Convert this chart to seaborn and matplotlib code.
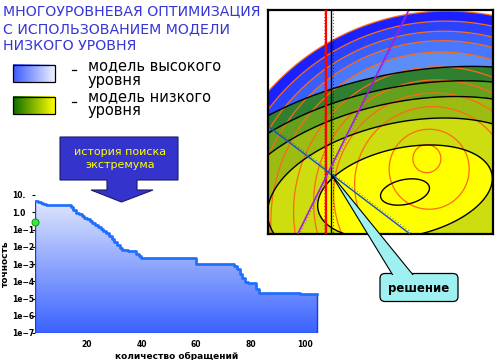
import numpy as np
import pandas as pd
import matplotlib
matplotlib.use("Agg")
import matplotlib.pyplot as plt
import seaborn as sns
from matplotlib.colors import LinearSegmentedColormap, to_rgb
from matplotlib.patches import Polygon, FancyBboxPatch, Rectangle
from matplotlib.ticker import NullLocator

# ---------------- texts ----------------
title_lines = ["МНОГОУРОВНЕВАЯ ОПТИМИЗАЦИЯ", "С ИСПОЛЬЗОВАНИЕМ МОДЕЛИ", "НИЗКОГО УРОВНЯ"]
legend_high = ["модель высокого", "уровня"]
legend_low = ["модель низкого", "уровня"]
history_label = ["история поиска", "экстремума"]
solution_label = "решение"
x_label = "количество обращений"
y_label = "точность"

# ---------------- search history ----------------
evaluations = [1, 2, 3, 4, 5, 13, 14, 15, 16, 17, 18, 19, 20, 21, 22, 23, 24, 25,
               26, 27, 28, 29, 30, 31, 32, 33, 35, 38, 39, 40, 60, 74, 75, 76, 77,
               78, 79, 82, 83, 98, 104.5]
accuracy = [4.7, 4.0, 3.3, 2.9, 2.8, 2.5, 1.9, 1.4, 0.95, 0.76, 0.6, 0.48, 0.38,
            0.3, 0.23, 0.18, 0.14, 0.11, 0.083, 0.06, 0.044, 0.03, 0.02, 0.0126,
            0.0087, 0.0063, 0.0059, 0.004, 0.0028, 0.0022, 1.0e-3, 7.9e-4, 5.0e-4,
            2.8e-4, 1.5e-4, 8.9e-5, 7.9e-5, 3.5e-5, 2.1e-5, 1.9e-5, 1.9e-5]
start_x = [1]
start_acc = [0.27]

y_tick_values = [1e1, 1e0, 1e-1, 1e-2, 1e-3, 1e-4, 1e-5, 1e-6, 1e-7]
y_tick_labels = ["10.", "1.0", "1e−1", "1e−2", "1e−3", "1e−4", "1e−5", "1e−6", "1e−7"]
x_tick_values = [20, 40, 60, 80, 100]
x_tick_labels = ["20", "40", "60", "80", "100"]

# ---------------- contour panel model parameters ----------------
low_center = [405.0, 192.0]
low_quad = [1 / 7000, 4.93e-4, 1.52e-4]
low_levels = [0.28, 1.0, 1.574, 2.031, 2.366, 2.672]
low_colors = ["#ffff00", "#cddd10", "#9cbc14", "#62a01e", "#2e7f30"]
high_center = [425.6, 153.0]
high_shift = [0.0896, 0.406]
high_levels = [14, 40, 78, 101, 123, 145, 170, 189, 205, 222, 239]
high_band_levels = [170, 189, 205, 222, 239]
high_colors = ["#5b8ef6", "#4878ff", "#3860ff", "#2842ff", "#1a20ff"]
red_line_x = 326.0
black_line_x = 331.0
purple_line = [(297.7, 234.0), (408.3, 11.0)]
blue_line = [(269.0, 127.0), (410.0, 234.0)]

plt.rcParams["font.family"] = ["DejaVu Sans"]
W, H = 500, 360
fig = plt.figure(figsize=(5, 3.6), dpi=100)
fig.patch.set_facecolor("white")

# ================= main chart =================
ax = fig.add_axes([35.2 / W, 1 - 333 / H, (318.6 - 35.2) / W, (333 - 195) / H])
ax.set_yscale("log")
ax.set_xlim(1, 105)
ax.set_ylim(1e-7, 10)
ax.set_autoscale_on(False)
df = pd.DataFrame({"evals": evaluations, "acc": accuracy})

poly = ax.fill_between(df["evals"], df["acc"], 1e-7, step="post",
                       facecolor="none", edgecolor="#1438ff", linewidth=1.0, zorder=2)
grad = np.linspace(0, 1, 256).reshape(-1, 1)
gcmap = LinearSegmentedColormap.from_list("g", ["#3a62ff", "#e6ecfc"])
im = ax.imshow(grad, cmap=gcmap, origin="lower", extent=(0, 1, 0, 1),
               transform=ax.transAxes, aspect="auto", zorder=1)
im.set_clip_path(poly.get_paths()[0], transform=ax.transData)

sns.lineplot(data=df, x="evals", y="acc", drawstyle="steps-post", color="#1f6fff",
             linewidth=1.9, estimator=None, sort=False, ax=ax, zorder=3)
sns.scatterplot(x=start_x, y=start_acc, ax=ax, color="#33ee33", edgecolor="#118011",
                linewidth=0.6, s=26, zorder=5, clip_on=False, legend=False)

ax.set_xlim(1, 105)
ax.set_ylim(1e-7, 10)
ax.set_yticks(y_tick_values)
ax.yaxis.set_minor_locator(NullLocator())
ax.set_yticklabels(y_tick_labels, ha="left", fontweight="bold", fontsize=5.5)
ax.tick_params(axis="y", length=2, width=0.8, pad=14.9)
ax.set_xticks(x_tick_values)
ax.set_xticklabels(x_tick_labels, fontweight="bold", fontsize=5.5)
ax.tick_params(axis="x", length=0, pad=5)
for s in ax.spines.values():
    s.set_visible(False)
ax.set_xlabel(x_label, fontsize=6.5, fontweight="bold", labelpad=2.5)
ax.set_ylabel(y_label, fontsize=6.5, fontweight="bold")
ax.yaxis.set_label_coords(-0.09, 0.5)

# ================= contour panel =================
pax = fig.add_axes([268 / W, 1 - 234 / H, 225 / W, 224 / H])
xs = np.linspace(268, 493, 451)
ys = np.linspace(10, 234, 449)
X, Y = np.meshgrid(xs, ys)
dx = X - low_center[0]
dy = Y - low_center[1]
A, B, C = low_quad
S = np.sqrt(np.maximum(A * dx ** 2 + B * dy ** 2 + C * dx * dy, 0))
hx = X - high_center[0]
hy = Y - high_center[1]
kx, ky = high_shift
a = 1 - kx ** 2 - ky ** 2
b = kx * hx + ky * hy
Rh = (-b + np.sqrt(b ** 2 + a * (hx ** 2 + hy ** 2))) / a

rgb = np.ones(X.shape + (3,))
low_idx = np.digitize(S, low_levels[1:])
for i, c in enumerate(low_colors):
    rgb[low_idx == i] = to_rgb(c)
blue_idx = np.digitize(Rh, high_band_levels)
mask_high = low_idx == len(low_colors)
for i, c in enumerate(high_colors):
    rgb[mask_high & (blue_idx == i)] = to_rgb(c)
rgb[mask_high & (blue_idx == len(high_colors))] = (1, 1, 1)
pax.imshow(rgb, extent=(268, 493, 234, 10), origin="upper", aspect="auto",
           interpolation="nearest", zorder=0)
pax.contour(X, Y, Rh, levels=high_levels, colors="#ff6a10", linewidths=0.9, zorder=1)
pax.contour(X, Y, S, levels=low_levels, colors="black", linewidths=1.0, zorder=2)


def line_with_ticks(p0, p1, color, lw, side):
    (x0, y0), (x1, y1) = p0, p1
    L = np.hypot(x1 - x0, y1 - y0)
    nx, ny = -(y1 - y0) / L * side, (x1 - x0) / L * side
    pax.plot([x0 + 1.8 * nx, x1 + 1.8 * nx], [y0 + 1.8 * ny, y1 + 1.8 * ny],
             color=color, lw=0.7, ls=(0, (0.7, 2.6)), zorder=3)
    pax.plot([x0, x1], [y0, y1], color=color, lw=lw, zorder=4, solid_capstyle="butt")


line_with_ticks((red_line_x, 10), (red_line_x, 234), "#ff0000", 1.6, 1)
line_with_ticks((black_line_x, 10), (black_line_x, 234), "black", 1.0, -1)
line_with_ticks(purple_line[0], purple_line[1], "#a020e0", 1.2, 1)
line_with_ticks(blue_line[0], blue_line[1], "#1850c8", 1.0, -1)

pax.set_xlim(268, 493)
pax.set_ylim(234, 10)
pax.set_xticks([])
pax.set_yticks([])
for s in pax.spines.values():
    s.set_linewidth(1.6)
    s.set_color("black")

# ================= overlay (decorations, pixel coordinates) =================
ov = fig.add_axes([0, 0, 1, 1], zorder=10)
ov.set_xlim(0, W)
ov.set_ylim(H, 0)
ov.axis("off")

for line, base in zip(title_lines, [15.0, 33.3, 50.0]):
    ov.text(3, base, line, color="#3636d6", fontsize=10.2, va="baseline", ha="left")


def gradient_box(x0, y0, x1, y1, c0, c1):
    c0, c1 = np.array(to_rgb(c0)), np.array(to_rgb(c1))
    t = np.linspace(0, 1, 64)[None, :, None]
    arr = c0 + (c1 - c0) * t
    ov.imshow(arr, extent=(x0, x1, y1, y0), aspect="auto", interpolation="bilinear", zorder=2)
    ov.add_patch(Rectangle((x0, y0), x1 - x0, y1 - y0, fc="none", ec="black", lw=0.9, zorder=3))


gradient_box(13.3, 65.0, 55.0, 82.3, "#3a5cff", "#eef0ff")
gradient_box(13.3, 96.7, 55.0, 114.0, "#0d6e00", "#ffff00")
ov.plot([71.5, 76], [70.3, 70.3], color="black", lw=0.9)
ov.plot([71.5, 76], [101.7, 101.7], color="black", lw=0.9)
# multi-line texts: baseline anchor refers to the last line
ov.text(88, 84.5, "\n".join(legend_high), color="black", fontsize=10.5,
        va="baseline", ha="left", linespacing=0.93)
ov.text(88, 115.5, "\n".join(legend_low), color="black", fontsize=10.5,
        va="baseline", ha="left", linespacing=0.93)

box_arrow = [(60, 137), (178, 137), (178, 180), (137, 180), (137, 190), (153, 190),
             (121.5, 202), (91, 190), (107, 190), (107, 180), (60, 180)]
ov.add_patch(Polygon(box_arrow, closed=True, fc="#3434cc", ec="#1a1a66", lw=0.8, zorder=2))
ov.text(120.5, 168.5, "\n".join(history_label), color="#ffff00", fontsize=8,
        va="baseline", ha="center", linespacing=1.45, zorder=3)

cyan = "#9ff0f0"
ov.add_patch(FancyBboxPatch((380, 273.5), 78, 28, boxstyle="round,pad=0,rounding_size=5",
                            fc=cyan, ec="black", lw=0.9, zorder=4))
ov.add_patch(Polygon([(331, 174), (397, 282), (418.8, 282)], closed=True,
                     fc=cyan, ec="black", lw=0.8, zorder=5))
ov.add_patch(Rectangle((386, 274.5), 36, 12, fc=cyan, ec="none", zorder=6))
ov.text(419, 288.5, solution_label, fontsize=8.5, fontweight="bold", color="black",
        ha="center", va="center", zorder=7)

ov.set_xlim(0, W)
ov.set_ylim(H, 0)
fig.savefig("out.png", dpi=100)
